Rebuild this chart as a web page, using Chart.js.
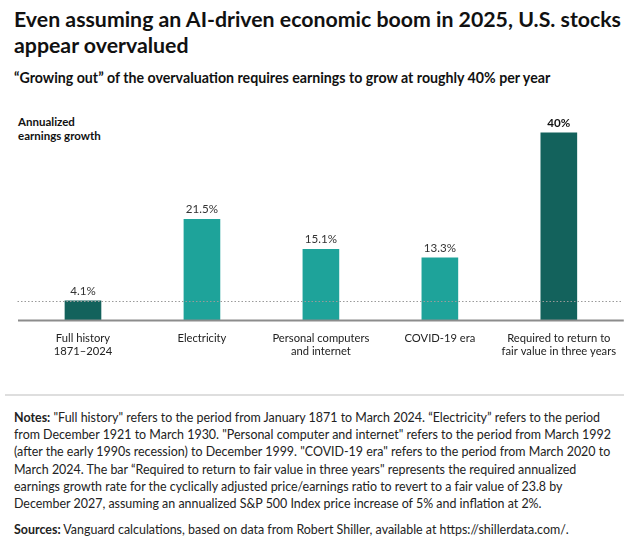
<!DOCTYPE html>
<html>
<head>
<meta charset="utf-8">
<script src="https://cdn.jsdelivr.net/npm/chart.js@4.4.1/dist/chart.umd.min.js"></script>
<style>
  html, body { margin: 0; padding: 0; background: #fff; }
  body { width: 629px; height: 545px; position: relative; overflow: hidden; font-family: Lato, "Open Sans", sans-serif; color: #1a1a1a; }
  #title { position: absolute; left: 14px; top: 6px; width: 610px; font-size: 21.3px; font-weight: 700; line-height: 26px; color: #111; white-space: nowrap; }
  #subtitle { position: absolute; left: 14px; top: 69px; font-size: 14.2px; font-weight: 700; color: #111; white-space: nowrap; }
  #ytitle { position: absolute; left: 18px; top: 115px; font-size: 11.5px; font-weight: 700; line-height: 14px; color: #111; }
  #wrap { position: absolute; left: 0; top: 100px; width: 629px; height: 280px; }
  #sep { position: absolute; left: 5px; top: 394px; width: 619px; height: 2px; background: #dedede; }
  #notes { position: absolute; left: 14px; top: 409px; width: 612px; font-size: 12.45px; line-height: 17.2px; color: #222; white-space: nowrap; }
  #sources { position: absolute; left: 14px; top: 522px; width: 612px; font-size: 12.45px; color: #222; white-space: nowrap; }
</style>
</head>
<body>
<div id="title">Even assuming an AI-driven economic boom in 2025, U.S. stocks<br>appear overvalued</div>
<div id="subtitle">“Growing out” of the overvaluation requires earnings to grow at roughly 40% per year</div>
<div id="ytitle">Annualized<br>earnings growth</div>
<div id="wrap"><canvas id="c" width="629" height="280"></canvas></div>
<div id="sep"></div>
<div id="notes"><b>Notes:</b> "Full history" refers to the period from January 1871 to March 2024. “Electricity” refers to the period<br>from December 1921 to March 1930. "Personal computer and internet" refers to the period from March 1992<br>(after the early 1990s recession) to December 1999. "COVID-19 era" refers to the period from March 2020 to<br>March 2024. The bar “Required to return to fair value in three years" represents the required annualized<br>earnings growth rate for the cyclically adjusted price/earnings ratio to revert to a fair value of 23.8 by<br>December 2027, assuming an annualized S&amp;P 500 Index price increase of 5% and inflation at 2%.</div>
<div id="sources"><b>Sources:</b> Vanguard calculations, based on data from Robert Shiller, available at https://shillerdata.com/.</div>
<script>
const categories = [
  ["Full history", "1871–2024"],
  ["Electricity"],
  ["Personal computers", "and internet"],
  ["COVID-19 era"],
  ["Required to return to", "fair value in three years"]
];
const growthValues = [4.1, 21.5, 15.1, 13.3, 40];
const valueLabels = ["4.1%", "21.5%", "15.1%", "13.3%", "40%"];
const boldLabel = [false, false, false, false, true];
const referenceLevel = 4.1;

const DARK = "#13625c";
const LIGHT = "#1ea39a";
const barColors = [DARK, LIGHT, LIGHT, LIGHT, DARK];

const overlay = {
  id: "overlay",
  afterDatasetsDraw(chart) {
    const ctx = chart.ctx;
    const y = chart.scales.y;
    const area = chart.chartArea;
    const ry = Math.round(y.getPixelForValue(referenceLevel)) + 0.5;
    ctx.save();
    ctx.strokeStyle = "#9a9a9a";
    ctx.lineWidth = 1;
    ctx.setLineDash([1.5, 2]);
    ctx.beginPath();
    ctx.moveTo(area.left - 6, ry);
    ctx.lineTo(area.right + 3, ry);
    ctx.stroke();
    ctx.setLineDash([]);
    const by = y.getPixelForValue(0) + 0.5;
    ctx.strokeStyle = "#8c8c8c";
    ctx.lineWidth = 2;
    ctx.beginPath();
    ctx.moveTo(area.left - 5.5, by);
    ctx.lineTo(area.right + 5.5, by);
    ctx.stroke();
    const meta = chart.getDatasetMeta(0);
    ctx.textAlign = "center";
    ctx.textBaseline = "bottom";
    meta.data.forEach((bar, i) => {
      ctx.font = (boldLabel[i] ? "700 " : "400 ") + "11.6px Lato, sans-serif";
      ctx.fillStyle = boldLabel[i] ? "#111" : "#333";
      ctx.fillText(valueLabels[i], bar.x, bar.y - 4);
    });
    ctx.restore();
  }
};

new Chart(document.getElementById("c"), {
  type: "bar",
  data: {
    labels: categories,
    datasets: [{
      data: growthValues,
      backgroundColor: barColors,
      borderColor: barColors,
      borderWidth: 0,
      barThickness: 36
    }]
  },
  options: {
    responsive: false,
    animation: false,
    events: [],
    layout: { padding: { left: 23.5, right: 9.5, top: 14, bottom: 0 } },
    plugins: { legend: { display: false }, tooltip: { enabled: false } },
    scales: {
      x: {
        grid: { display: false, drawTicks: false },
        border: { display: false },
        ticks: { padding: 12, color: "#222", font: { family: "Lato, sans-serif", size: 11.2, lineHeight: 1.18 }, maxRotation: 0, autoSkip: false },
        afterFit(scale) { scale.height = 60; }
      },
      y: {
        display: false,
        min: 0,
        max: 44
      }
    }
  },
  plugins: [overlay]
});
</script>
</body>
</html>
